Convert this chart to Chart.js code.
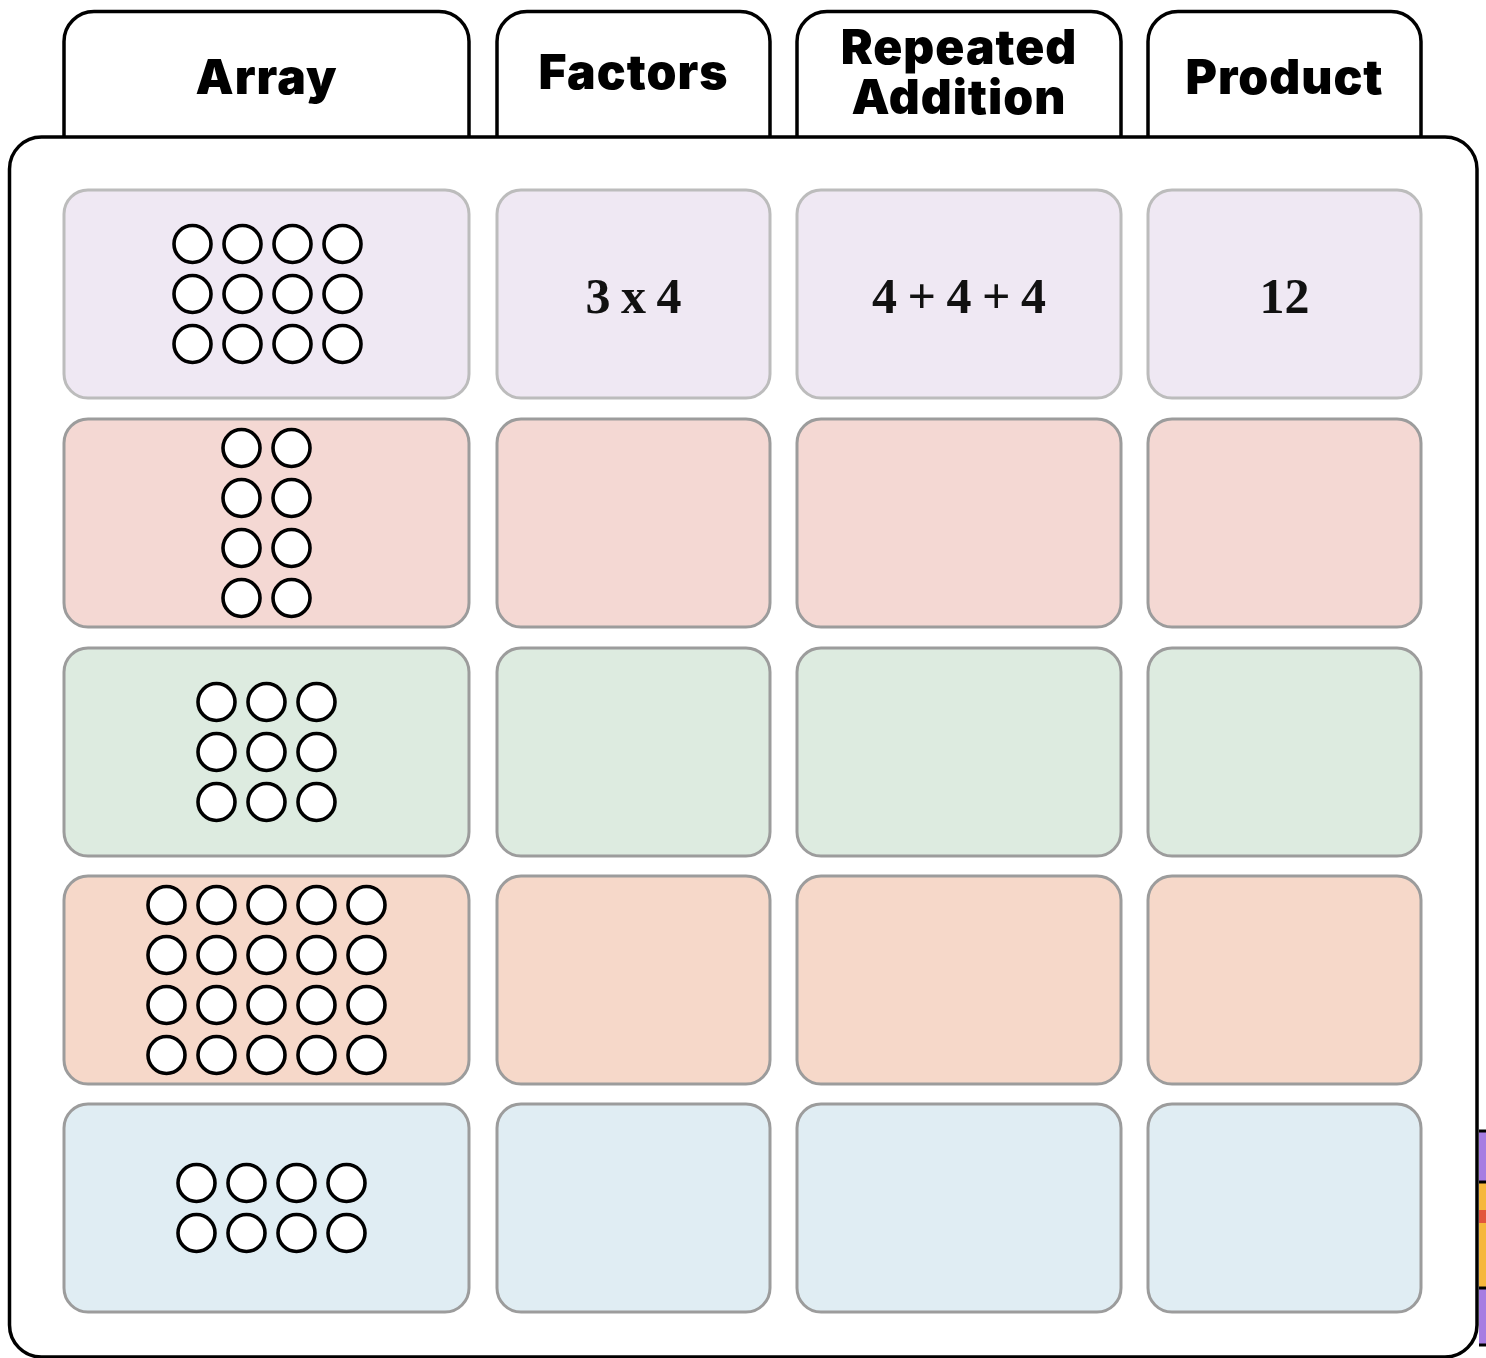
<!DOCTYPE html>
<html>
<head>
<meta charset="utf-8">
<title>Array, Factors, Repeated Addition, Product</title>
<script src="https://cdn.jsdelivr.net/npm/chart.js@4/dist/chart.umd.min.js"></script>
<style>
  html, body { margin: 0; padding: 0; background: #ffffff; }
  canvas { display: block; }
</style>
</head>
<body>
<canvas id="sheet" width="1486" height="1358"></canvas>
<script>
  "use strict";

  // ---- data ----
  const columnTitles = [["Array"], ["Factors"], ["Repeated", "Addition"], ["Product"]];
  const arrayRows = [3, 4, 3, 4, 2];
  const arrayCols = [4, 2, 3, 5, 4];
  const factorsText = ["3 x 4", "", "", "", ""];
  const additionText = ["4 + 4 + 4", "", "", "", ""];
  const productText = ["12", "", "", "", ""];

  // ---- styles ----
  const rowFills = ["#efe8f3", "#f4d8d3", "#ddebe0", "#f6d8c9", "#e0edf3"];
  const rowBorders = ["#bcbcbc", "#9c9c9c", "#9c9c9c", "#9c9c9c", "#9c9c9c"];
  const HEAD_FONT = "900 48px Inter, Roboto, 'DejaVu Sans', sans-serif";
  const CELL_FONT = "bold 50px 'Liberation Serif', 'DejaVu Serif', serif";

  // ---- layout (in scale units, 1 unit = 1 px of the page) ----
  const W = 1486, H = 1358;
  const colLeft = [64, 497, 797, 1148];
  const colRight = [469, 770, 1121, 1421];
  const titleY = [80, 75, 75, 80];
  const rowTop = [190, 419, 648, 876, 1104];
  const rowHeight = 208;
  const dotGap = 50;
  const dotShiftX = [1, 0, 0, 0, 5];
  const tabTop = 11.5, boxTop = 137, boxLeft = 9.5, boxRight = 1477, boxBottom = 1357;

  function cellCenter(c, r) {
    return { x: (colLeft[c] + colRight[c]) / 2, y: rowTop[r] + rowHeight / 2 };
  }

  const dotDatasets = arrayRows.map(function (rows, r) {
    const cols = arrayCols[r];
    const centre = cellCenter(0, r);
    const pts = [];
    for (let i = 0; i < rows; i++) {
      for (let j = 0; j < cols; j++) {
        pts.push({
          x: centre.x + dotShiftX[r] + (j - (cols - 1) / 2) * dotGap,
          y: centre.y + (i - (rows - 1) / 2) * dotGap
        });
      }
    }
    return {
      label: rows + " x " + cols,
      data: pts,
      pointRadius: 18.5,
      pointHoverRadius: 18.5,
      pointBackgroundColor: "#ffffff",
      pointBorderColor: "#000000",
      pointBorderWidth: 3.6,
      showLine: false
    };
  });

  function rr(ctx, x, y, w, h, r) {
    ctx.beginPath();
    ctx.roundRect(x, y, w, h, r);
  }

  const sheetPlugin = {
    id: "sheet",
    beforeDatasetsDraw: function (chart) {
      const ctx = chart.ctx;
      const sx = chart.scales.x, sy = chart.scales.y;
      const px = function (v) { return sx.getPixelForValue(v); };
      const py = function (v) { return sy.getPixelForValue(v); };
      ctx.save();
      ctx.fillStyle = "#ffffff";
      ctx.fillRect(0, 0, chart.width, chart.height);

      // partial decoration on the right edge
      ctx.lineWidth = 3;
      ctx.strokeStyle = "#000000";
      ctx.fillStyle = "#a67de2";
      ctx.fillRect(px(1479), py(1131), px(W) - px(1479), py(1181) - py(1131));
      ctx.fillRect(px(1479), py(1288), px(W) - px(1479), py(1345) - py(1288));
      ctx.fillStyle = "#f6b73c";
      ctx.fillRect(px(1479), py(1183), px(W) - px(1479), py(1287) - py(1183));
      ctx.fillStyle = "#e2563c";
      ctx.fillRect(px(1479), py(1210), px(W) - px(1479), py(1223) - py(1210));
      [1131, 1182, 1288, 1345].forEach(function (y) {
        ctx.beginPath();
        ctx.moveTo(px(1479), py(y));
        ctx.lineTo(px(W), py(y));
        ctx.stroke();
      });

      // tabs
      ctx.lineWidth = 3.5;
      colLeft.forEach(function (l, c) {
        const r = colRight[c];
        const rad = 30;
        ctx.beginPath();
        ctx.moveTo(px(l), py(boxTop));
        ctx.lineTo(px(l), py(tabTop + rad));
        ctx.arcTo(px(l), py(tabTop), px(l + rad), py(tabTop), rad);
        ctx.lineTo(px(r - rad), py(tabTop));
        ctx.arcTo(px(r), py(tabTop), px(r), py(tabTop + rad), rad);
        ctx.lineTo(px(r), py(boxTop));
        ctx.fillStyle = "#ffffff";
        ctx.fill();
        ctx.stroke();
      });

      // main board
      rr(ctx, px(boxLeft), py(boxTop), px(boxRight) - px(boxLeft), py(boxBottom) - py(boxTop), 32);
      ctx.fillStyle = "#ffffff";
      ctx.fill();
      ctx.stroke();

      // cells
      ctx.lineWidth = 3;
      rowTop.forEach(function (t, r) {
        colLeft.forEach(function (l, c) {
          rr(ctx, px(l), py(t), px(colRight[c]) - px(l), py(t + rowHeight) - py(t), 24);
          ctx.fillStyle = rowFills[r];
          ctx.fill();
          ctx.strokeStyle = rowBorders[r];
          ctx.stroke();
        });
      });

      // tab titles
      ctx.fillStyle = "#000000";
      ctx.textAlign = "center";
      ctx.textBaseline = "middle";
      ctx.font = HEAD_FONT;
      ctx.letterSpacing = "1px";
      columnTitles.forEach(function (lines, c) {
        const cx = (colLeft[c] + colRight[c]) / 2;
        lines.forEach(function (txt, k) {
          const y = titleY[c] + (k - (lines.length - 1) / 2) * 50;
          ctx.fillText(txt, px(cx), py(y));
        });
      });
      ctx.restore();
    },
    afterDatasetsDraw: function (chart) {
      const ctx = chart.ctx;
      const sx = chart.scales.x, sy = chart.scales.y;
      ctx.save();
      ctx.fillStyle = "#111111";
      ctx.textAlign = "center";
      ctx.textBaseline = "middle";
      ctx.font = CELL_FONT;
      ctx.wordSpacing = "-2px";
      [factorsText, additionText, productText].forEach(function (col, k) {
        col.forEach(function (txt, r) {
          if (!txt) return;
          const p = cellCenter(k + 1, r);
          ctx.fillText(txt, sx.getPixelForValue(p.x), sy.getPixelForValue(p.y + 6));
        });
      });
      ctx.restore();
    }
  };

  new Chart(document.getElementById("sheet"), {
    type: "scatter",
    data: { datasets: dotDatasets },
    options: {
      responsive: false,
      devicePixelRatio: 1,
      animation: false,
      layout: { padding: 0, autoPadding: false },
      events: [],
      plugins: { legend: { display: false }, tooltip: { enabled: false } },
      scales: {
        x: { type: "linear", display: false, min: 0, max: W },
        y: { type: "linear", display: false, min: 0, max: H, reverse: true }
      }
    },
    plugins: [sheetPlugin]
  });
</script>
</body>
</html>
